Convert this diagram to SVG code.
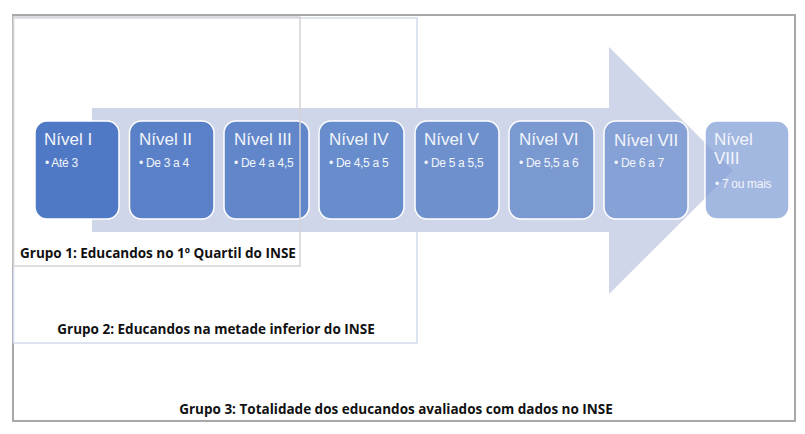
<svg xmlns="http://www.w3.org/2000/svg" width="805" height="434" viewBox="0 0 805 434">
<style>
.lvl{stroke:#ffffff;stroke-width:1.5}
.t1{font-family:"Liberation Sans",Arial,sans-serif;font-size:17px;fill:#f2f5fb}
.t2{font-family:"Liberation Sans",Arial,sans-serif;font-size:12px;fill:#f2f5fb;letter-spacing:-0.3px}
.g{font-family:"Open Sans",sans-serif;font-size:13.5px;font-weight:bold;fill:#111111}
</style>
<rect x="0" y="0" width="805" height="434" fill="#ffffff"/>
<g id="grupo3"><rect x="13" y="15" width="782" height="406" fill="none" stroke="#a8a8a8" stroke-width="2"/>
<text class="g" x="396" y="414" text-anchor="middle">Grupo 3: Totalidade dos educandos avaliados com dados no INSE</text></g>
<g id="grupo2"><rect x="13.5" y="18" width="403.5" height="325" fill="none" stroke="#d3daee" stroke-width="1.5"/>
<text class="g" x="216" y="334" text-anchor="middle">Grupo 2: Educandos na metade inferior do INSE</text></g>
<g id="arrow"><polygon points="92,108 609,108 609,47 733,170.5 609,294 609,232 92,232" fill="#d0d6ea"/></g>
<g id="n1"><rect class="lvl" x="35" y="121" width="84" height="98" rx="12" fill="#5079c5"/>
<text class="t1" x="44" y="145">Nível I</text><text class="t2" x="45" y="167">• Até 3</text></g>
<g id="n2"><rect class="lvl" x="129.5" y="121" width="84.5" height="98" rx="12" fill="#5a81c8"/>
<text class="t1" x="139" y="145">Nível II</text><text class="t2" x="139" y="167">• De 3 a 4</text></g>
<g id="n3"><rect class="lvl" x="224" y="121" width="85" height="98" rx="12" fill="#6187ca"/>
<text class="t1" x="234" y="145">Nível III</text><text class="t2" x="234" y="167">• De 4 a 4,5</text></g>
<g id="n4"><rect class="lvl" x="319" y="121" width="85" height="98" rx="12" fill="#688dcc"/>
<text class="t1" x="329" y="145">Nível IV</text><text class="t2" x="329" y="167">• De 4,5 a 5</text></g>
<g id="n5"><rect class="lvl" x="415" y="121" width="84" height="98" rx="12" fill="#6e91ce"/>
<text class="t1" x="424" y="145">Nível V</text><text class="t2" x="424" y="167">• De 5 a 5,5</text></g>
<g id="n6"><rect class="lvl" x="509" y="121" width="85" height="98" rx="12" fill="#7a99d1"/>
<text class="t1" x="519" y="145">Nível VI</text><text class="t2" x="519" y="167">• De 5,5 a 6</text></g>
<g id="n7"><rect class="lvl" x="604" y="121" width="84" height="98" rx="12" fill="#86a1d5"/>
<text class="t1" x="614" y="146">Nível VII</text><text class="t2" x="614" y="167">• De 6 a 7</text></g>
<g id="n8"><rect class="lvl" x="705" y="121" width="84" height="98" rx="12" fill="#7f9dd6" fill-opacity="0.72"/>
<text class="t1" x="714" y="145">Nível</text><text class="t1" x="714" y="164">VIII</text><text class="t2" x="715" y="188">• 7 ou mais</text></g>
<g id="grupo1"><rect x="13.5" y="17" width="286.5" height="249" fill="none" stroke="#d3d3d3" stroke-width="1.5"/>
<text class="g" x="20" y="258">Grupo 1: Educandos no 1º Quartil do INSE</text></g>
</svg>
